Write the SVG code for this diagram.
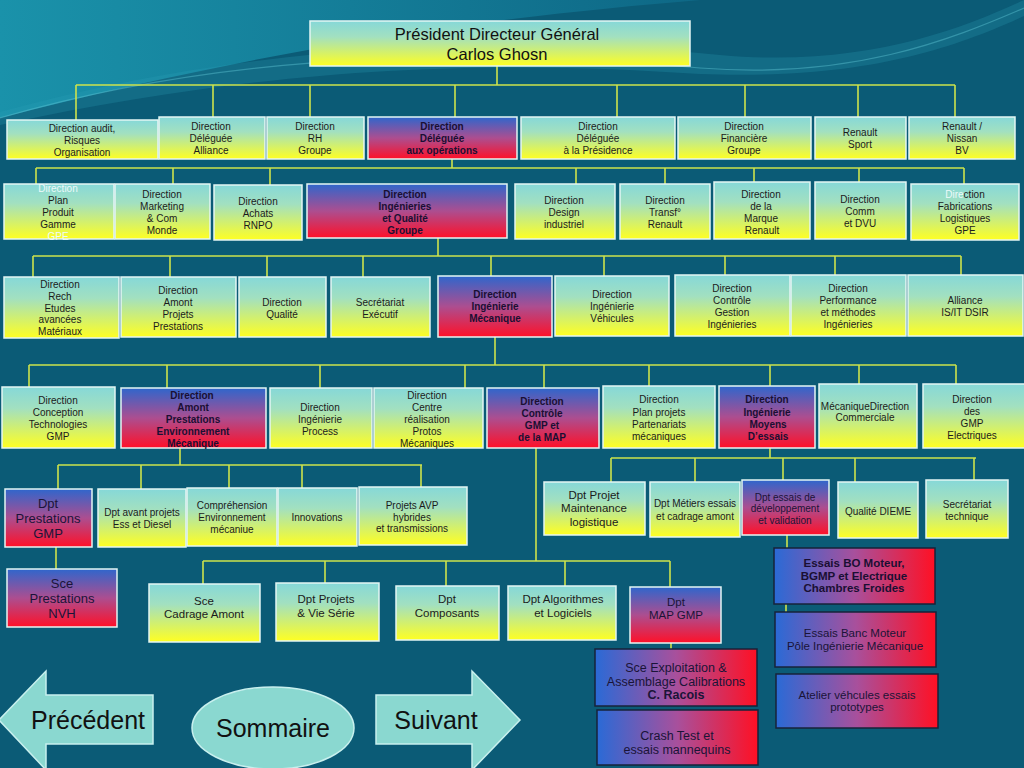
<svg xmlns="http://www.w3.org/2000/svg" width="1024" height="768" viewBox="0 0 1024 768">
<defs>
<linearGradient id="ty" x1="0" y1="0" x2="0" y2="1"><stop offset="0" stop-color="#86d8d8"/><stop offset="0.35" stop-color="#a2e0c0"/><stop offset="1" stop-color="#ffff22"/></linearGradient>
<linearGradient id="br" x1="0" y1="0" x2="0" y2="1"><stop offset="0" stop-color="#2f66cc"/><stop offset="0.5" stop-color="#ac4e90"/><stop offset="1" stop-color="#ff1028"/></linearGradient>
<linearGradient id="brh" x1="0" y1="0" x2="1" y2="0"><stop offset="0" stop-color="#2a6ad6"/><stop offset="0.5" stop-color="#a8509c"/><stop offset="1" stop-color="#ff1024"/></linearGradient>
<linearGradient id="sw1" x1="0" y1="0" x2="1" y2="0"><stop offset="0" stop-color="#1a92aa"/><stop offset="1" stop-color="#0e6886"/></linearGradient>
<style>
.n{fill:url(#ty);stroke:#e4f6f4;stroke-width:1.5}
.r{fill:url(#br);stroke:#e4f6f4;stroke-width:1.5}
.h{fill:url(#brh);stroke:#17233a;stroke-width:1.5}
text{font-family:"Liberation Sans",Arial,sans-serif;font-size:10px;fill:#1b1b1b;text-anchor:middle}
.b{font-weight:bold;fill:#1a0f33}
.d{fill:#1a1438}
.m{font-size:11.5px}
.l{font-size:13px}
.w{fill:#eefafa}
.c{stroke:#cde34c;stroke-width:1.6;fill:none}
.nav{fill:#8ad8d0;stroke:#c8f0ee;stroke-width:1.5}
.navt{font-size:25px;fill:#111}
</style>
</defs>
<rect width="1024" height="768" fill="#0b5b76"/>
<path d="M0,0 H700 C520,15 300,40 0,118 Z" fill="url(#sw1)"/>
<path d="M0,112 C260,40 520,35 720,55 C860,68 960,30 1024,0 L1024,16 C950,50 860,80 700,74 C520,62 300,60 0,125 Z" fill="#2aa0b6" opacity="0.25"/>
<path d="M0,118 C250,45 520,50 700,68 C850,80 950,40 1024,8" stroke="#5ec4d2" stroke-width="1.2" fill="none" opacity="0.45"/>

<g id="connectors">
<path class="c" d="M497,66V85 M76,85H955 M76,85V120 M213,85V117 M310,85V117 M455,85V117 M617,85V117 M745,85V117 M858,85V117 M955,85V117
M452,159V168 M36,168H964 M36,168V184 M173,168V184 M270,168V185 M576,168V184 M665,168V184 M754,168V182 M859,168V182 M964,168V184
M438,238V256 M33,256H961 M33,256V277 M170,256V277 M267,256V277 M363,256V277 M491,256V276 M604,256V276 M725,256V275 M835,256V275 M961,256V275
M495,337V365 M29,365H956 M29,365V387 M167,365V388 M320,365V388 M465,365V388 M544,365V388 M649,365V386 M770,365V386 M859,365V384 M956,365V384
M180,448V465 M58,465H422 M58,465V489 M141,465V489 M229,465V488 M302,465V488 M421,465V487
M56,547V569
M536,448V561 M203,561H670 M203,561V584 M325,561V583 M446,561V586 M565,561V586 M670,561V587
M671,643V649
M770,448V458 M611,458H976 M611,458V482 M695,458V482 M783,458V480 M855,458V482 M974,458V480
M787,535V548 M786,604V612"/>
</g>

<g id="pdg"><rect class="n" x="310" y="21" width="380" height="45"/><text style="font-size:16.5px;fill:#111"><tspan x="497" y="40">Président Directeur Général</tspan><tspan x="497" y="60">Carlos Ghosn</tspan></text></g>

<g id="audit"><rect class="n" x="7" y="120" width="151" height="39"/><text><tspan x="82" y="131.5">Direction audit,</tspan><tspan x="82" y="143.5">Risques</tspan><tspan x="82" y="155.5">Organisation</tspan></text></g>
<g id="alliance"><rect class="n" x="159" y="117" width="106" height="42"/><text><tspan x="211" y="129.5">Direction</tspan><tspan x="211" y="141.5">Déléguée</tspan><tspan x="211" y="153.5">Alliance</tspan></text></g>
<g id="rh"><rect class="n" x="267" y="117" width="97" height="42"/><text><tspan x="315" y="129.5">Direction</tspan><tspan x="315" y="141.5">RH</tspan><tspan x="315" y="153.5">Groupe</tspan></text></g>
<g id="operations"><rect class="r" x="368" y="117" width="149" height="42"/><text class="b"><tspan x="442" y="129.5">Direction</tspan><tspan x="442" y="141.5">Déléguée</tspan><tspan x="442" y="153.5">aux opérations</tspan></text></g>
<g id="presidence"><rect class="n" x="521" y="117" width="154" height="42"/><text><tspan x="598" y="129.5">Direction</tspan><tspan x="598" y="141.5">Déléguée</tspan><tspan x="598" y="153.5">à la Présidence</tspan></text></g>
<g id="financiere"><rect class="n" x="678" y="117" width="133" height="42"/><text><tspan x="744" y="129.5">Direction</tspan><tspan x="744" y="141.5">Financière</tspan><tspan x="744" y="153.5">Groupe</tspan></text></g>
<g id="sport"><rect class="n" x="815" y="117" width="91" height="42"/><text><tspan x="860" y="135.5">Renault</tspan><tspan x="860" y="147.5">Sport</tspan></text></g>
<g id="nissan"><rect class="n" x="909" y="117" width="106" height="42"/><text><tspan x="962" y="129.5">Renault /</tspan><tspan x="962" y="141.5">Nissan</tspan><tspan x="962" y="153.5">BV</tspan></text></g>

<g id="plan-produit"><rect class="n" x="4" y="184" width="110" height="55"/><text><tspan class="w" x="58" y="191.5">Direction</tspan><tspan x="58" y="203.5">Plan</tspan><tspan x="58" y="215.5">Produit</tspan><tspan x="58" y="227.5">Gamme</tspan><tspan class="w" x="58" y="239.5">GPE</tspan></text></g>
<g id="marketing"><rect class="n" x="115" y="184" width="95" height="55"/><text><tspan x="162" y="197.5">Direction</tspan><tspan x="162" y="209.5">Marketing</tspan><tspan x="162" y="221.5">&amp; Com</tspan><tspan x="162" y="233.5">Monde</tspan></text></g>
<g id="achats"><rect class="n" x="214" y="185" width="88" height="55"/><text><tspan x="258" y="204.5">Direction</tspan><tspan x="258" y="216.5">Achats</tspan><tspan x="258" y="228.5">RNPO</tspan></text></g>
<g id="ingenieries"><rect class="r" x="307" y="184" width="200" height="54"/><text class="b"><tspan x="405" y="197.5">Direction</tspan><tspan x="405" y="209.5">Ingénieries</tspan><tspan x="405" y="221.5">et Qualité</tspan><tspan x="405" y="233.5">Groupe</tspan></text></g>
<g id="design"><rect class="n" x="515" y="184" width="100" height="55"/><text><tspan x="564" y="203.5">Direction</tspan><tspan x="564" y="215.5">Design</tspan><tspan x="564" y="227.5">industriel</tspan></text></g>
<g id="transf"><rect class="n" x="620" y="184" width="90" height="55"/><text><tspan x="665" y="203.5">Direction</tspan><tspan x="665" y="215.5">Transf°</tspan><tspan x="665" y="227.5">Renault</tspan></text></g>
<g id="marque"><rect class="n" x="714" y="182" width="96" height="57"/><text><tspan x="761" y="197.5">Direction</tspan><tspan x="761" y="209.5">de la</tspan><tspan x="761" y="221.5">Marque</tspan><tspan x="762" y="233.5">Renault</tspan></text></g>
<g id="comm"><rect class="n" x="815" y="182" width="91" height="57"/><text><tspan x="860" y="202.5">Direction</tspan><tspan x="860" y="214.5">Comm</tspan><tspan x="860" y="226.5">et DVU</tspan></text></g>
<g id="fabrications"><rect class="n" x="911" y="184" width="108" height="56"/><text><tspan x="965" y="197.5"><tspan class="w">Dire</tspan>ction</tspan><tspan x="965" y="209.5">Fabrications</tspan><tspan x="965" y="221.5">Logistiques</tspan><tspan x="965" y="233.5">GPE</tspan></text></g>

<g id="rech"><rect class="n" x="4" y="277" width="115" height="61"/><text><tspan x="60" y="287.5">Direction</tspan><tspan x="60" y="299.5">Rech</tspan><tspan x="60" y="311.5">Etudes</tspan><tspan x="60" y="322.5">avancées</tspan><tspan x="60" y="334.5">Matériaux</tspan></text></g>
<g id="amont-projets"><rect class="n" x="121" y="277" width="115" height="60"/><text><tspan x="178" y="293.5">Direction</tspan><tspan x="178" y="305.5">Amont</tspan><tspan x="178" y="317.5">Projets</tspan><tspan x="178" y="329.5">Prestations</tspan></text></g>
<g id="qualite"><rect class="n" x="239" y="277" width="87" height="60"/><text><tspan x="282" y="305.5">Direction</tspan><tspan x="282" y="317.5">Qualité</tspan></text></g>
<g id="secretariat-exec"><rect class="n" x="331" y="277" width="99" height="60"/><text><tspan x="380" y="305.5">Secrétariat</tspan><tspan x="380" y="317.5">Exécutif</tspan></text></g>
<g id="ing-meca"><rect class="r" x="438" y="276" width="114" height="61"/><text class="b"><tspan x="495" y="297.5">Direction</tspan><tspan x="495" y="309.5">Ingénierie</tspan><tspan x="495" y="321.5">Mécanique</tspan></text></g>
<g id="vehicules"><rect class="n" x="555" y="276" width="114" height="60"/><text><tspan x="612" y="297.5">Direction</tspan><tspan x="612" y="309.5">Ingénierie</tspan><tspan x="612" y="321.5">Véhicules</tspan></text></g>
<g id="controle-gestion"><rect class="n" x="675" y="275" width="115" height="61"/><text><tspan x="732" y="291.5">Direction</tspan><tspan x="732" y="303.5">Contrôle</tspan><tspan x="732" y="315.5">Gestion</tspan><tspan x="732" y="327.5">Ingénieries</tspan></text></g>
<g id="performance"><rect class="n" x="791" y="275" width="115" height="61"/><text><tspan x="848" y="291.5">Direction</tspan><tspan x="848" y="303.5">Performance</tspan><tspan x="848" y="315.5">et méthodes</tspan><tspan x="848" y="327.5">Ingénieries</tspan></text></g>
<g id="dsir"><rect class="n" x="908" y="275" width="115" height="61"/><text><tspan x="965" y="303.5">Alliance</tspan><tspan x="965" y="315.5">IS/IT DSIR</tspan></text></g>

<g id="conception"><rect class="n" x="2" y="387" width="113" height="61"/><text><tspan x="58" y="403.5">Direction</tspan><tspan x="58" y="415.5">Conception</tspan><tspan x="58" y="427.5">Technologies</tspan><tspan x="58" y="439.5">GMP</tspan></text></g>
<g id="amont-env"><rect class="r" x="121" y="388" width="145" height="60"/><text class="b"><tspan x="192" y="398.5">Direction</tspan><tspan x="193" y="410.5">Amont</tspan><tspan x="193" y="422.5">Prestations</tspan><tspan x="193" y="434.5">Environnement</tspan><tspan x="193" y="446.5">Mécanique</tspan></text></g>
<g id="process"><rect class="n" x="270" y="388" width="102" height="60"/><text><tspan x="320" y="410.5">Direction</tspan><tspan x="320" y="422.5">Ingénierie</tspan><tspan x="320" y="434.5">Process</tspan></text></g>
<g id="centre-protos"><rect class="n" x="374" y="388" width="109" height="60"/><text><tspan x="427" y="398.5">Direction</tspan><tspan x="427" y="410.5">Centre</tspan><tspan x="427" y="422.5">réalisation</tspan><tspan x="427" y="434.5">Protos</tspan><tspan x="427" y="446.5">Mécaniques</tspan></text></g>
<g id="controle-gmp"><rect class="r" x="487" y="388" width="112" height="60"/><text class="b"><tspan x="542" y="404.5">Direction</tspan><tspan x="542" y="416.5">Contrôle</tspan><tspan x="542" y="428.5">GMP et</tspan><tspan x="542" y="440.5">de la MAP</tspan></text></g>
<g id="plan-projets"><rect class="n" x="603" y="386" width="112" height="62"/><text><tspan x="659" y="402.5">Direction</tspan><tspan x="659" y="415.5">Plan projets</tspan><tspan x="659" y="427.5">Partenariats</tspan><tspan x="659" y="439.5">mécaniques</tspan></text></g>
<g id="moyens-essais"><rect class="r" x="719" y="386" width="96" height="62"/><text class="b"><tspan x="767" y="402.5">Direction</tspan><tspan x="767" y="415.5">Ingénierie</tspan><tspan x="768" y="427.5">Moyens</tspan><tspan x="768" y="439.5">D’essais</tspan></text></g>
<g id="commerciale"><rect class="n" x="819" y="384" width="98" height="64"/><text><tspan x="865" y="409.5">MécaniqueDirection</tspan><tspan x="865" y="420.5">Commerciale</tspan></text></g>
<g id="gmp-elec"><rect class="n" x="923" y="384" width="103" height="64"/><text><tspan x="972" y="402.5">Direction</tspan><tspan x="972" y="414.5">des</tspan><tspan x="972" y="426.5">GMP</tspan><tspan x="972" y="438.5">Electriques</tspan></text></g>

<g id="dpt-prestations-gmp"><rect class="r" x="5" y="489" width="87" height="58"/><text class="l d"><tspan x="48" y="507.5">Dpt</tspan><tspan x="48" y="522.5">Prestations</tspan><tspan x="48" y="537.5">GMP</tspan></text></g>
<g id="avant-projets"><rect class="n" x="98" y="489" width="88" height="58"/><text><tspan x="142" y="515.5">Dpt avant projets</tspan><tspan x="142" y="527.5">Ess et Diesel</tspan></text></g>
<g id="comprehension"><rect class="n" x="187" y="488" width="90" height="58"/><text><tspan x="232" y="508.5">Compréhension</tspan><tspan x="232" y="520.5">Environnement</tspan><tspan x="232" y="532.5">mécaniue</tspan></text></g>
<g id="innovations"><rect class="n" x="278" y="488" width="79" height="58"/><text><tspan x="317" y="520.5">Innovations</tspan></text></g>
<g id="projets-avp"><rect class="n" x="359" y="487" width="108" height="58"/><text><tspan x="412" y="508.5">Projets AVP</tspan><tspan x="412" y="520.5">hybrides</tspan><tspan x="412" y="531.5">et transmissions</tspan></text></g>
<g id="sce-nvh"><rect class="r" x="7" y="569" width="110" height="58"/><text class="l d"><tspan x="62" y="587.5">Sce</tspan><tspan x="62" y="602.5">Prestations</tspan><tspan x="62" y="617.5">NVH</tspan></text></g>

<g id="maintenance"><rect class="n" x="544" y="482" width="101" height="53"/><text class="m"><tspan x="594" y="499">Dpt Projet</tspan><tspan x="594" y="512">Maintenance</tspan><tspan x="594" y="525.5">logistique</tspan></text></g>
<g id="metiers"><rect class="n" x="650" y="482" width="90" height="55"/><text><tspan x="695" y="506.5">Dpt Métiers essais</tspan><tspan x="695" y="519.5">et cadrage amont</tspan></text></g>
<g id="essais-dev"><rect class="r" x="742" y="480" width="87" height="55"/><text class="d"><tspan x="785" y="500.5">Dpt essais de</tspan><tspan x="785" y="511.5">développement</tspan><tspan x="785" y="523.5">et validation</tspan></text></g>
<g id="dieme"><rect class="n" x="838" y="482" width="80" height="56"/><text><tspan x="878" y="514.5">Qualité DIEME</tspan></text></g>
<g id="secretariat-tech"><rect class="n" x="926" y="480" width="82" height="58"/><text><tspan x="967" y="507.5">Secrétariat</tspan><tspan x="967" y="519.5">technique</tspan></text></g>

<g id="essais-bo"><rect class="h" x="774" y="548" width="161" height="56"/><text class="m b"><tspan x="854" y="567">Essais BO Moteur,</tspan><tspan x="854" y="580">BGMP et Electrique</tspan><tspan x="854" y="592">Chambres Froides</tspan></text></g>
<g id="banc-moteur"><rect class="h" x="775" y="612" width="161" height="55"/><text class="m d"><tspan x="855" y="637">Essais Banc Moteur</tspan><tspan x="855" y="650">Pôle Ingénierie Mécanique</tspan></text></g>
<g id="atelier"><rect class="h" x="776" y="674" width="162" height="54"/><text class="m d"><tspan x="857" y="699">Atelier véhcules essais</tspan><tspan x="857" y="711">prototypes</tspan></text></g>

<g id="cadrage-amont"><rect class="n" x="149" y="584" width="111" height="58"/><text class="m"><tspan x="204" y="605">Sce</tspan><tspan x="204" y="618">Cadrage Amont</tspan></text></g>
<g id="vie-serie"><rect class="n" x="276" y="583" width="103" height="58"/><text class="m"><tspan x="326" y="603">Dpt Projets</tspan><tspan x="326" y="617">&amp; Vie Série</tspan></text></g>
<g id="composants"><rect class="n" x="396" y="586" width="103" height="54"/><text class="m"><tspan x="447" y="603">Dpt</tspan><tspan x="447" y="617">Composants</tspan></text></g>
<g id="algorithmes"><rect class="n" x="508" y="586" width="108" height="54"/><text class="m"><tspan x="563" y="603">Dpt Algorithmes</tspan><tspan x="563" y="617">et Logiciels</tspan></text></g>
<g id="map-gmp"><rect class="r" x="630" y="587" width="91" height="56"/><text class="m d"><tspan x="676" y="606">Dpt</tspan><tspan x="676" y="619">MAP GMP</tspan></text></g>
<g id="exploitation"><rect class="h" x="595" y="649" width="162" height="57"/><text class="d" style="font-size:12.5px"><tspan x="676" y="672">Sce Exploitation &amp;</tspan><tspan x="676" y="686">Assemblage Calibrations</tspan><tspan x="676" y="699" font-weight="bold">C. Racois</tspan></text></g>
<g id="crash-test"><rect class="h" x="597" y="710" width="161" height="55"/><text class="d" style="font-size:12.5px"><tspan x="677" y="739.5">Crash Test et</tspan><tspan x="677" y="753.5">essais mannequins</tspan></text></g>

<g id="precedent"><polygon class="nav" points="-1,720 46,671 46,695 153,695 153,744 46,744 46,770"/><text class="navt" x="88" y="729">Précédent</text></g>
<g id="sommaire"><ellipse class="nav" cx="273" cy="728" rx="81" ry="41"/><text class="navt" x="273" y="737">Sommaire</text></g>
<g id="suivant"><polygon class="nav" points="376,695 472,695 472,671 520,720 472,770 472,744 376,744"/><text class="navt" x="436" y="729">Suivant</text></g>
</svg>
